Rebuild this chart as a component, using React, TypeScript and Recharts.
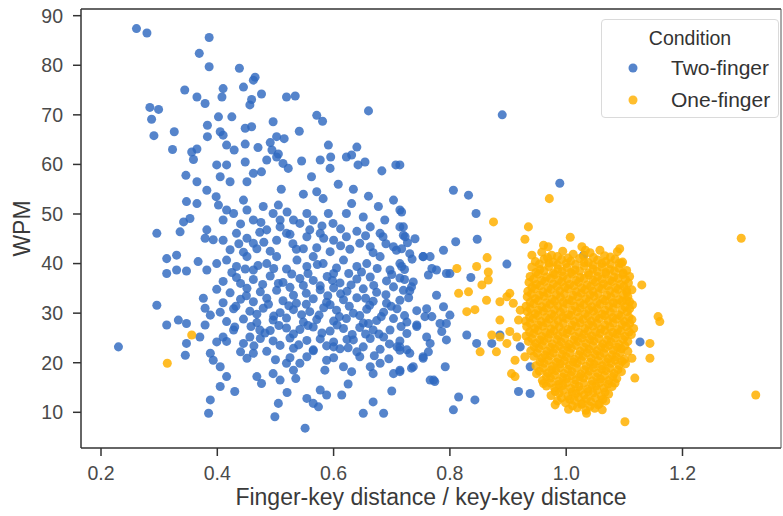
import { ScatterChart, Scatter, XAxis, YAxis, Legend } from 'recharts';

const FONT = '"Liberation Sans", Arial, Helvetica, sans-serif';

const X_TICKS = [0.2, 0.4, 0.6, 0.8, 1.0, 1.2];
const Y_TICKS = [10, 20, 30, 40, 50, 60, 70, 80, 90];
const CONDITIONS = ['Two-finger', 'One-finger'];

// [finger-key / key-key distance, WPM]
const twoFinger: [number, number][] = [
  // sparse upper part
  [0.261, 87.4], [0.279, 86.5], [0.386, 85.6], [0.369, 82.4], [0.386, 79.7], [0.438, 79.4], [0.462, 77.0], [0.465, 77.6],
  [0.410, 75.3], [0.408, 73.6], [0.445, 75.6], [0.476, 74.2], [0.459, 73.1], [0.456, 72.0], [0.519, 73.6], [0.534, 73.8],
  [0.344, 75.0], [0.365, 73.6], [0.379, 72.3], [0.284, 71.5], [0.299, 71.1], [0.287, 69.1], [0.291, 65.8], [0.326, 66.6],
  [0.323, 63.0], [0.660, 70.8], [0.571, 69.9], [0.581, 68.7], [0.402, 69.6], [0.425, 69.6], [0.383, 67.9], [0.383, 65.6],
  [0.405, 66.6], [0.410, 65.9], [0.448, 67.3], [0.459, 67.6], [0.496, 68.6], [0.541, 66.7], [0.416, 63.9], [0.429, 62.9],
  [0.448, 64.1], [0.470, 63.4], [0.491, 64.4], [0.502, 65.6], [0.515, 65.2], [0.494, 62.9], [0.505, 62.1], [0.591, 63.9],
  [0.640, 63.5], [0.631, 61.9], [0.356, 62.5], [0.365, 63.1], [0.359, 61.0], [0.399, 59.9], [0.416, 59.9], [0.405, 57.5],
  [0.422, 56.5], [0.448, 60.5], [0.462, 58.2], [0.476, 58.5], [0.451, 56.5], [0.485, 60.9], [0.502, 61.5], [0.513, 60.2],
  [0.522, 59.2], [0.545, 60.7], [0.577, 60.9], [0.595, 61.5], [0.594, 59.2], [0.622, 61.5], [0.642, 59.9], [0.654, 60.5],
  [0.562, 57.5], [0.683, 58.7], [0.707, 59.9], [0.346, 57.8], [0.365, 56.5], [0.510, 55.0], [0.548, 54.0], [0.571, 54.5],
  [0.582, 53.1], [0.608, 56.0], [0.634, 55.0], [0.660, 53.6], [0.677, 51.5], [0.714, 50.8], [0.382, 54.8], [0.398, 53.5],
  [0.402, 51.8], [0.347, 52.5], [0.365, 52.1], [0.416, 50.8], [0.428, 50.1], [0.410, 48.8], [0.445, 52.8], [0.451, 50.8],
  [0.462, 48.8], [0.479, 51.5], [0.496, 50.1], [0.505, 51.8], [0.508, 48.8], [0.531, 48.8], [0.554, 50.1], [0.565, 48.8],
  [0.591, 50.1], [0.599, 48.1], [0.622, 50.1], [0.631, 52.1], [0.651, 49.4], [0.663, 47.4], [0.680, 46.1], [0.714, 47.4],
  [0.720, 45.7], [0.342, 48.4], [0.353, 49.1], [0.336, 46.4], [0.296, 46.1], [0.382, 46.8], [0.379, 45.1], [0.410, 44.7],
  [0.451, 45.1], [0.462, 44.1], [0.485, 46.8], [0.508, 47.4], [0.519, 46.1], [0.542, 48.1], [0.559, 46.8], [0.577, 46.1],
  [0.890, 70.0],
  // main body
  [0.393, 44.8], [0.433, 46.1], [0.473, 46.3], [0.502, 44.7], [0.525, 45.9], [0.554, 45.4], [0.600, 44.7], [0.622, 45.4],
  [0.645, 44.1], [0.663, 43.4], [0.685, 45.4], [0.703, 43.4], [0.740, 45.0],
  [0.422, 42.8], [0.445, 42.3], [0.468, 43.0], [0.491, 42.5], [0.536, 42.9], [0.571, 43.2], [0.594, 42.4], [0.628, 42.9],
  [0.668, 42.2], [0.708, 42.7],
  [0.313, 41.0], [0.330, 41.7], [0.313, 38.0], [0.330, 38.7], [0.347, 38.5], [0.367, 40.4], [0.382, 38.7], [0.399, 40.0],
  [0.416, 40.7], [0.433, 39.4], [0.451, 41.4], [0.462, 38.7], [0.485, 40.0], [0.502, 41.4], [0.519, 38.9], [0.537, 40.7],
  [0.554, 39.4], [0.565, 41.4], [0.582, 40.0], [0.600, 38.0], [0.617, 40.7], [0.640, 39.4], [0.657, 40.0], [0.680, 41.4],
  [0.697, 38.7], [0.714, 40.0], [0.731, 42.0], [0.754, 41.4],
  [0.410, 36.4], [0.433, 37.2], [0.462, 36.8], [0.491, 37.5], [0.513, 36.2], [0.542, 37.0], [0.565, 36.6], [0.589, 37.4],
  [0.611, 36.1], [0.640, 36.9], [0.663, 37.3], [0.691, 36.5], [0.714, 37.1], [0.737, 36.3],
  [0.399, 34.8], [0.422, 34.1], [0.451, 35.0], [0.474, 34.3], [0.502, 34.6], [0.525, 35.2], [0.553, 34.0], [0.577, 34.7],
  [0.600, 35.1], [0.623, 34.4], [0.651, 34.9], [0.674, 34.2], [0.703, 35.3], [0.731, 34.5],
  [0.410, 32.1], [0.440, 32.8], [0.462, 32.3], [0.485, 33.0], [0.513, 32.5], [0.536, 32.0], [0.565, 32.9], [0.588, 32.2],
  [0.617, 32.7], [0.640, 33.1], [0.668, 32.4], [0.691, 32.0], [0.714, 32.6],
  [0.405, 30.2], [0.428, 30.9], [0.456, 30.4], [0.479, 31.0], [0.508, 30.1], [0.531, 30.7], [0.559, 30.3], [0.583, 31.1],
  [0.605, 30.6], [0.634, 30.0], [0.657, 30.8], [0.686, 30.2], [0.709, 30.9], [0.743, 30.5],
  [0.416, 28.3], [0.445, 28.8], [0.468, 28.1], [0.496, 28.6], [0.519, 29.0], [0.548, 28.2], [0.571, 28.7], [0.600, 28.4],
  [0.622, 28.9], [0.651, 28.0], [0.674, 28.5], [0.703, 28.9], [0.726, 28.2],
  [0.491, 26.5], [0.519, 27.0], [0.542, 26.7], [0.565, 27.2], [0.594, 26.4], [0.617, 26.9], [0.645, 27.1], [0.697, 26.6],
  [0.416, 24.3], [0.474, 24.9], [0.496, 24.4], [0.525, 25.0], [0.554, 24.5], [0.577, 24.8], [0.600, 24.2], [0.623, 24.7],
  [0.663, 24.9], [0.714, 24.4],
  [0.485, 22.3], [0.531, 22.9], [0.565, 22.4], [0.611, 22.8], [0.640, 22.2], [0.680, 22.7], [0.714, 22.5],
  // clumps inside the body
  [0.425, 38.2], [0.440, 36.0], [0.448, 38.9], [0.470, 39.6], [0.478, 35.8], [0.497, 39.0], [0.505, 36.0], [0.528, 37.9],
  [0.531, 33.6], [0.548, 35.6], [0.556, 38.0], [0.572, 39.8], [0.577, 35.5], [0.590, 33.5], [0.598, 36.6], [0.605, 39.1],
  [0.612, 33.9], [0.626, 38.0], [0.630, 35.7], [0.648, 38.3], [0.655, 33.0], [0.669, 35.6], [0.675, 39.0], [0.690, 33.7],
  [0.700, 37.8], [0.722, 38.8], [0.729, 33.1],
  [0.432, 31.4], [0.450, 33.5], [0.468, 29.8], [0.488, 31.8], [0.497, 29.4], [0.523, 31.5], [0.545, 29.7], [0.553, 31.8],
  [0.575, 29.6], [0.594, 31.7], [0.610, 29.3], [0.627, 31.4], [0.645, 29.5], [0.662, 31.6], [0.682, 29.3], [0.699, 31.4],
  [0.722, 29.5],
  [0.430, 27.2], [0.458, 27.3], [0.482, 26.0], [0.506, 27.5], [0.531, 25.8], [0.556, 27.5], [0.580, 26.0], [0.606, 27.6],
  [0.632, 25.7], [0.660, 27.9], [0.678, 25.8], [0.716, 27.3],
  [0.440, 22.2], [0.463, 23.4], [0.508, 23.5], [0.540, 23.6], [0.588, 23.4], [0.625, 23.0], [0.655, 25.8], [0.696, 23.8],
  [0.437, 44.0], [0.480, 44.3], [0.530, 44.0], [0.548, 43.0], [0.583, 45.1], [0.612, 43.6], [0.655, 45.6], [0.690, 44.0],
  [0.727, 44.2],
  [0.440, 48.0], [0.475, 48.3], [0.520, 50.4], [0.580, 47.6], [0.612, 47.0], [0.640, 46.5], [0.688, 48.8], [0.703, 52.8],
  [0.500, 20.6], [0.525, 21.0], [0.600, 21.0], [0.670, 21.4], [0.695, 20.8], [0.520, 14.0], [0.535, 16.8], [0.625, 15.7],
  [0.700, 14.3],
  // lower and left edges
  [0.296, 31.6], [0.230, 23.2], [0.313, 27.6], [0.333, 28.6], [0.347, 27.9], [0.347, 23.9], [0.345, 21.5], [0.370, 25.2],
  [0.379, 27.6], [0.376, 33.0], [0.379, 31.0], [0.388, 29.6], [0.388, 21.9], [0.393, 20.5], [0.405, 19.2], [0.416, 17.2],
  [0.430, 14.2], [0.405, 15.2], [0.388, 12.5], [0.385, 9.8], [0.399, 24.2], [0.410, 25.2], [0.428, 26.6], [0.445, 23.9],
  [0.456, 25.2], [0.473, 26.6], [0.451, 20.9], [0.462, 21.9], [0.468, 17.2], [0.476, 15.8], [0.496, 17.8], [0.508, 16.5],
  [0.519, 19.9], [0.531, 18.5], [0.542, 19.9], [0.554, 21.2], [0.565, 22.6], [0.588, 20.5], [0.600, 23.2], [0.617, 19.2],
  [0.631, 18.2], [0.585, 18.5], [0.505, 11.8], [0.499, 9.1], [0.554, 12.8], [0.565, 11.8], [0.574, 11.1], [0.577, 14.5],
  [0.588, 13.5], [0.551, 6.8], [0.614, 13.5], [0.651, 9.8], [0.668, 12.1], [0.686, 9.8], [0.645, 21.2], [0.663, 19.2],
  [0.668, 17.8], [0.680, 19.9], [0.703, 17.8], [0.714, 18.5], [0.737, 19.2], [0.634, 24.6], [0.651, 23.2], [0.668, 26.6],
  [0.686, 25.2], [0.709, 23.2], [0.726, 22.6], [0.743, 27.3], [0.754, 21.2], [0.760, 25.2], [0.766, 16.5],
  // right tail
  [0.989, 56.2], [0.806, 54.8], [0.832, 53.8], [0.845, 50.1], [0.717, 50.4], [0.714, 59.9], [0.720, 47.4], [0.723, 45.4],
  [0.717, 43.0], [0.735, 40.9], [0.722, 36.8],
  [0.810, 44.4], [0.847, 44.9], [0.789, 42.7], [0.754, 41.4], [0.766, 41.4], [0.898, 39.9], [0.769, 39.0], [0.794, 38.0],
  [0.800, 38.0], [0.777, 38.7], [0.763, 37.7], [0.836, 37.2], [0.717, 39.4], [0.720, 34.6], [0.734, 35.3], [0.777, 33.6],
  [0.789, 31.3], [0.800, 29.6], [0.760, 30.9], [0.769, 29.3], [0.757, 29.3], [0.783, 27.9], [0.794, 27.9], [0.786, 26.3],
  [0.794, 24.6], [0.743, 27.6], [0.726, 25.9], [0.766, 23.9], [0.714, 23.2], [0.731, 21.9], [0.754, 20.9], [0.763, 22.2],
  [0.714, 18.2], [0.734, 18.9], [0.792, 19.2], [0.772, 16.5], [0.774, 16.2], [0.829, 25.6], [0.846, 23.9], [0.872, 23.9],
  [0.886, 25.6], [0.921, 23.2], [0.938, 19.2], [1.127, 24.2], [0.815, 13.1], [0.843, 12.5], [0.806, 10.5], [0.918, 14.2],
  [0.938, 13.8], [1.030, 41.7],
];

const oneFinger: [number, number][] = [
  // scattered outliers
  [0.314, 19.9], [0.356, 25.6], [0.971, 53.1], [0.875, 48.4], [0.935, 47.4], [0.929, 44.9], [1.007, 45.3], [1.301, 45.1],
  [1.326, 13.5], [1.101, 8.1], [0.812, 39.0], [0.846, 39.4], [0.864, 41.2], [0.866, 38.3], [0.866, 36.7], [0.855, 35.7],
  [0.815, 34.0], [0.832, 34.3], [0.863, 32.6], [0.829, 30.3], [0.843, 30.7], [0.886, 32.3], [0.898, 33.3], [0.903, 34.0],
  [0.909, 32.0], [0.921, 30.6], [0.918, 28.6], [0.886, 28.6], [0.903, 26.3], [0.915, 25.2], [0.872, 25.6], [0.886, 25.2],
  [0.852, 22.2], [0.880, 22.2], [0.898, 23.9], [0.912, 20.5], [0.906, 17.8], [0.912, 17.2], [0.929, 21.2], [0.949, 17.8],
  [0.961, 15.8], [0.941, 41.7], [0.961, 43.7], [0.969, 43.4], [1.027, 43.4], [1.033, 42.7], [1.058, 42.7], [1.092, 43.0],
  [1.095, 40.0], [1.130, 35.7], [1.104, 32.6], [1.104, 34.6], [1.158, 29.3], [1.161, 28.3], [1.144, 23.9], [1.144, 20.9],
  [1.113, 20.9], [1.118, 16.9], [0.981, 11.5], [1.035, 9.8],
  // dense cluster around 1.0
  [0.958, 42.3], [0.975, 41.7], [0.994, 42.5], [1.012, 41.9], [1.041, 42.2], [1.066, 41.6], [1.088, 42.4],
  [0.968, 41.2], [0.985, 41.4], [1.003, 41.1], [1.030, 41.5], [1.047, 41.2], [1.076, 41.3],
  [0.947, 40.4], [0.962, 40.9], [0.978, 40.3], [0.992, 40.8], [1.008, 40.5], [1.023, 41.0], [1.038, 40.2], [1.054, 40.7],
  [1.068, 40.4], [1.084, 40.9], [1.097, 40.3],
  [0.954, 39.9], [0.970, 40.1], [0.985, 39.7], [1.000, 40.0], [1.016, 39.8], [1.031, 40.2], [1.046, 39.7], [1.061, 40.0],
  [1.076, 39.9], [1.091, 40.1],
  [0.941, 39.3], [0.955, 38.8], [0.970, 39.4], [0.986, 38.9], [1.001, 39.2], [1.015, 38.7], [1.031, 39.5], [1.046, 38.9],
  [1.061, 39.3], [1.075, 38.8], [1.090, 39.1], [1.104, 38.6],
  [0.948, 38.2], [0.962, 38.5], [0.978, 38.1], [0.993, 38.4], [1.008, 38.2], [1.023, 38.5], [1.038, 38.1], [1.053, 38.4],
  [1.068, 38.2], [1.083, 38.5], [1.098, 38.1],
  [0.938, 37.4], [0.952, 37.9], [0.966, 37.3], [0.980, 37.8], [0.995, 37.5], [1.010, 37.9], [1.024, 37.2], [1.039, 37.7],
  [1.054, 37.4], [1.068, 37.9], [1.082, 37.3], [1.097, 37.8], [1.109, 37.4],
  [0.944, 36.9], [0.958, 36.6], [0.973, 37.0], [0.987, 36.7], [1.002, 36.9], [1.017, 36.6], [1.031, 37.0], [1.046, 36.7],
  [1.061, 36.9], [1.075, 36.6], [1.089, 37.0], [1.102, 36.8],
  [0.936, 36.2], [0.949, 35.8], [0.963, 36.4], [0.978, 35.9], [0.992, 36.3], [1.006, 35.8], [1.021, 36.2], [1.036, 35.7],
  [1.050, 36.3], [1.064, 35.9], [1.079, 36.4], [1.093, 35.8], [1.107, 36.1],
  [0.941, 35.2], [0.955, 35.5], [0.969, 35.1], [0.984, 35.4], [0.998, 35.2], [1.013, 35.5], [1.027, 35.1], [1.042, 35.4],
  [1.056, 35.2], [1.071, 35.5], [1.085, 35.1], [1.099, 35.4],
  [0.934, 34.4], [0.946, 34.9], [0.960, 34.3], [0.974, 34.8], [0.989, 34.5], [1.003, 34.9], [1.017, 34.3], [1.032, 34.7],
  [1.046, 34.4], [1.061, 34.9], [1.075, 34.5], [1.089, 34.8], [1.104, 34.2], [1.113, 34.7],
  [0.940, 33.9], [0.954, 33.6], [0.968, 34.0], [0.983, 33.7], [0.997, 33.9], [1.012, 33.6], [1.026, 34.0], [1.041, 33.7],
  [1.055, 33.9], [1.070, 33.6], [1.084, 34.0], [1.098, 33.7],
  [0.933, 33.3], [0.947, 32.9], [0.962, 33.4], [0.976, 32.8], [0.990, 33.2], [1.005, 32.7], [1.020, 33.3], [1.034, 32.9],
  [1.048, 33.4], [1.063, 32.8], [1.077, 33.2], [1.091, 32.7], [1.106, 33.3],
  [0.938, 32.2], [0.952, 32.5], [0.966, 32.1], [0.980, 32.4], [0.995, 32.2], [1.010, 32.5], [1.024, 32.1], [1.039, 32.4],
  [1.053, 32.2], [1.067, 32.5], [1.081, 32.1], [1.096, 32.4], [1.109, 32.3],
  [0.931, 31.4], [0.944, 31.9], [0.958, 31.3], [0.972, 31.8], [0.986, 31.5], [1.001, 31.9], [1.015, 31.4], [1.030, 31.7],
  [1.044, 31.3], [1.058, 31.8], [1.073, 31.5], [1.087, 31.9], [1.101, 31.3], [1.114, 31.7],
  [0.938, 30.9], [0.952, 30.6], [0.966, 31.0], [0.980, 30.7], [0.995, 30.9], [1.010, 30.6], [1.024, 31.0], [1.039, 30.7],
  [1.053, 30.9], [1.067, 30.6], [1.081, 31.0], [1.096, 30.7], [1.109, 30.9],
  [0.933, 30.3], [0.947, 29.9], [0.961, 30.4], [0.975, 29.8], [0.990, 30.2], [1.004, 29.7], [1.019, 30.3], [1.033, 29.9],
  [1.047, 30.4], [1.062, 29.8], [1.076, 30.2], [1.090, 29.7], [1.105, 30.3],
  [0.937, 29.2], [0.951, 29.5], [0.965, 29.1], [0.979, 29.4], [0.994, 29.2], [1.008, 29.5], [1.022, 29.1], [1.037, 29.4],
  [1.051, 29.2], [1.066, 29.5], [1.080, 29.1], [1.094, 29.4], [1.108, 29.2],
  [0.930, 28.4], [0.943, 28.9], [0.957, 28.3], [0.971, 28.8], [0.986, 28.5], [1.000, 28.9], [1.014, 28.3], [1.029, 28.7],
  [1.043, 28.4], [1.057, 28.9], [1.072, 28.5], [1.086, 28.8], [1.100, 28.3], [1.113, 28.7],
  [0.938, 27.9], [0.952, 27.6], [0.966, 28.0], [0.980, 27.7], [0.995, 27.9], [1.010, 27.6], [1.024, 28.0], [1.039, 27.7],
  [1.053, 27.9], [1.067, 27.6], [1.081, 28.0], [1.096, 27.7], [1.109, 27.9],
  [0.932, 27.3], [0.946, 26.9], [0.960, 27.4], [0.974, 26.8], [0.988, 27.2], [1.003, 26.7], [1.017, 27.3], [1.032, 26.9],
  [1.046, 27.4], [1.060, 26.8], [1.075, 27.2], [1.089, 26.7], [1.103, 27.3], [1.116, 26.9],
  [0.937, 26.2], [0.951, 26.5], [0.965, 26.1], [0.979, 26.4], [0.994, 26.2], [1.008, 26.5], [1.022, 26.1], [1.037, 26.4],
  [1.051, 26.2], [1.066, 26.5], [1.080, 26.1], [1.094, 26.4], [1.108, 26.2],
  [0.931, 25.4], [0.944, 25.9], [0.958, 25.3], [0.972, 25.8], [0.986, 25.5], [1.001, 25.9], [1.015, 25.3], [1.030, 25.7],
  [1.044, 25.4], [1.058, 25.9], [1.073, 25.5], [1.087, 25.8], [1.101, 25.3], [1.112, 25.7],
  [0.941, 24.9], [0.955, 24.6], [0.969, 25.0], [0.984, 24.7], [0.998, 24.9], [1.013, 24.6], [1.027, 25.0], [1.041, 24.7],
  [1.056, 24.9], [1.070, 24.6], [1.084, 25.0], [1.098, 24.7],
  [0.935, 24.3], [0.948, 23.9], [0.962, 24.4], [0.976, 23.8], [0.991, 24.2], [1.005, 23.7], [1.020, 24.3], [1.034, 23.9],
  [1.048, 24.4], [1.063, 23.8], [1.077, 24.2], [1.091, 23.7], [1.106, 24.3],
  [0.945, 23.2], [0.959, 23.5], [0.973, 23.1], [0.988, 23.4], [1.002, 23.2], [1.017, 23.5], [1.031, 23.1], [1.046, 23.4],
  [1.060, 23.2], [1.074, 23.5], [1.088, 23.1], [1.101, 23.4],
  [0.939, 22.4], [0.953, 22.9], [0.967, 22.3], [0.981, 22.8], [0.995, 22.5], [1.009, 22.9], [1.024, 22.3], [1.039, 22.7],
  [1.053, 22.4], [1.067, 22.9], [1.081, 22.5], [1.095, 22.8], [1.106, 22.3],
  [0.950, 21.9], [0.964, 21.6], [0.978, 22.0], [0.993, 21.7], [1.007, 21.9], [1.022, 21.6], [1.036, 22.0], [1.050, 21.7],
  [1.065, 21.9], [1.079, 21.6], [1.093, 22.0],
  [0.944, 21.3], [0.958, 20.9], [0.972, 21.4], [0.986, 20.8], [1.000, 21.2], [1.014, 20.7], [1.029, 21.3], [1.043, 20.9],
  [1.058, 21.4], [1.072, 20.8], [1.086, 21.2], [1.100, 20.7],
  [0.955, 20.2], [0.969, 20.5], [0.983, 20.1], [0.997, 20.4], [1.012, 20.2], [1.026, 20.5], [1.041, 20.1], [1.055, 20.4],
  [1.069, 20.2], [1.084, 20.5], [1.096, 20.3],
  [0.948, 19.4], [0.962, 19.9], [0.976, 19.3], [0.990, 19.8], [1.005, 19.5], [1.019, 19.9], [1.034, 19.3], [1.048, 19.7],
  [1.062, 19.4], [1.077, 19.9], [1.091, 19.5], [1.102, 19.8],
  [0.961, 18.9], [0.975, 18.6], [0.989, 19.0], [1.003, 18.7], [1.018, 18.9], [1.032, 18.6], [1.047, 19.0], [1.061, 18.7],
  [1.075, 18.9], [1.089, 18.6],
  [0.954, 18.3], [0.968, 17.9], [0.982, 18.4], [0.996, 17.8], [1.010, 18.2], [1.025, 17.7], [1.040, 18.3], [1.054, 17.9],
  [1.068, 18.4], [1.082, 17.8], [1.095, 18.2],
  [0.966, 17.2], [0.980, 17.5], [0.994, 17.1], [1.009, 17.4], [1.023, 17.2], [1.038, 17.5], [1.052, 17.1], [1.066, 17.4],
  [1.080, 17.2],
  [0.959, 16.4], [0.973, 16.9], [0.987, 16.3], [1.001, 16.8], [1.016, 16.5], [1.030, 16.9], [1.045, 16.3], [1.059, 16.7],
  [1.073, 16.4], [1.087, 16.8],
  [0.973, 15.9], [0.987, 15.6], [1.001, 16.0], [1.015, 15.7], [1.030, 15.9], [1.044, 15.6], [1.058, 16.0], [1.072, 15.7],
  [1.084, 15.9],
  [0.966, 15.3], [0.980, 14.9], [0.994, 15.4], [1.008, 14.8], [1.022, 15.2], [1.037, 14.7], [1.051, 15.3], [1.065, 14.9],
  [1.079, 15.2],
  [0.981, 14.2], [0.995, 14.5], [1.010, 14.1], [1.024, 14.4], [1.038, 14.2], [1.053, 14.5], [1.067, 14.1],
  [0.974, 13.4], [0.988, 13.9], [1.003, 13.3], [1.017, 13.8], [1.031, 13.5], [1.046, 13.9], [1.060, 13.3], [1.073, 13.7],
  [0.992, 12.9], [1.006, 12.6], [1.021, 13.0], [1.035, 12.7], [1.050, 12.9], [1.063, 12.6],
  [0.985, 12.3], [0.999, 11.9], [1.014, 12.4], [1.028, 11.8], [1.042, 12.2], [1.057, 11.7], [1.068, 12.3],
  [1.011, 11.3], [1.026, 11.6], [1.041, 11.2], [1.055, 11.5],
  [1.004, 10.6], [1.019, 10.9], [1.034, 10.4], [1.049, 10.8], [1.062, 10.5],
];

const toRows = (pts: [number, number][]) => pts.map(([x, y]) => ({ x, y }));

const BLUE = '#3069c0';
const GOLD = '#ffb000';
const AXIS = '#333333';
const TEXT = '#4a4a4a';

function ConditionLegend({ payload }: any) {
  const items = [...(payload || [])].sort(
    (a: any, b: any) => CONDITIONS.indexOf(a.value) - CONDITIONS.indexOf(b.value),
  );
  return (
    <div
      style={{
        width: 178,
        height: 99,
        boxSizing: 'border-box',
        border: '1px solid #dadada',
        borderRadius: 4,
        background: 'rgba(255,255,255,0.85)',
        position: 'relative',
        fontFamily: FONT,
        color: '#333',
      }}
    >
      <div style={{ position: 'absolute', top: 7, left: 0, right: 0, textAlign: 'center', fontSize: 19.5, lineHeight: '22px' }}>
        Condition
      </div>
      {items.map((entry: any, i: number) => (
        <div key={entry.value} style={{ position: 'absolute', top: 37 + i * 32, left: 0, right: 0, height: 22 }}>
          <svg width={12} height={12} style={{ position: 'absolute', left: 25, top: 5 }}>
            <circle cx={6} cy={6} r={4.5} fill={entry.color} fillOpacity={0.82} />
          </svg>
          <span style={{ position: 'absolute', left: 69, top: 0, fontSize: 21, lineHeight: '22px' }}>{entry.value}</span>
        </div>
      ))}
    </div>
  );
}

export default function App() {
  return (
    <div style={{ position: 'absolute', left: 0, top: 0, width: 783, height: 516, background: '#fff' }}>
      <ScatterChart width={783} height={516} margin={{ top: 8, right: 1, bottom: 0, left: 0 }}>
        <XAxis
          type="number"
          dataKey="x"
          domain={[0.1656, 1.3694]}
          allowDataOverflow
          ticks={X_TICKS}
          tickFormatter={(v: number) => v.toFixed(1)}
          height={68}
          tickSize={8}
          tickMargin={10}
          axisLine={{ stroke: AXIS, strokeWidth: 1.5 }}
          tickLine={{ stroke: AXIS, strokeWidth: 1.5 }}
          tick={{ fill: TEXT, fontSize: 19.5, fontFamily: FONT }}
          label={{
            value: 'Finger-key distance / key-key distance',
            position: 'insideBottom',
            offset: 11,
            style: { fill: '#3a3a3a', fontSize: 23, fontFamily: FONT },
          }}
        />
        {/* top spine */}
        <XAxis
          xAxisId="top"
          orientation="top"
          type="number"
          domain={[0.1656, 1.3694]}
          height={1}
          tick={false}
          tickLine={false}
          axisLine={{ stroke: AXIS, strokeWidth: 1.5 }}
        />
        <YAxis
          type="number"
          dataKey="y"
          domain={[2.8, 91.35]}
          allowDataOverflow
          ticks={Y_TICKS}
          width={81}
          tickSize={8}
          tickMargin={10}
          axisLine={{ stroke: AXIS, strokeWidth: 1.5 }}
          tickLine={{ stroke: AXIS, strokeWidth: 1.5 }}
          tick={{ fill: TEXT, fontSize: 19.5, fontFamily: FONT }}
          label={{
            value: 'WPM',
            angle: -90,
            position: 'insideLeft',
            offset: 22,
            style: { textAnchor: 'middle', fill: '#3a3a3a', fontSize: 23, fontFamily: FONT },
          }}
        />
        {/* right spine */}
        <YAxis
          yAxisId="right"
          orientation="right"
          type="number"
          domain={[2.8, 91.35]}
          width={1}
          tick={false}
          tickLine={false}
          axisLine={{ stroke: '#555', strokeWidth: 1 }}
        />
        <Legend
          verticalAlign="middle"
          content={ConditionLegend}
          wrapperStyle={{ top: 19, left: 601, width: 178, height: 99 }}
        />
        <Scatter name="Two-finger" data={toRows(twoFinger)} fill={BLUE} fillOpacity={0.82} isAnimationActive={false} />
        <Scatter name="One-finger" data={toRows(oneFinger)} fill={GOLD} fillOpacity={0.85} isAnimationActive={false} />
      </ScatterChart>
    </div>
  );
}
